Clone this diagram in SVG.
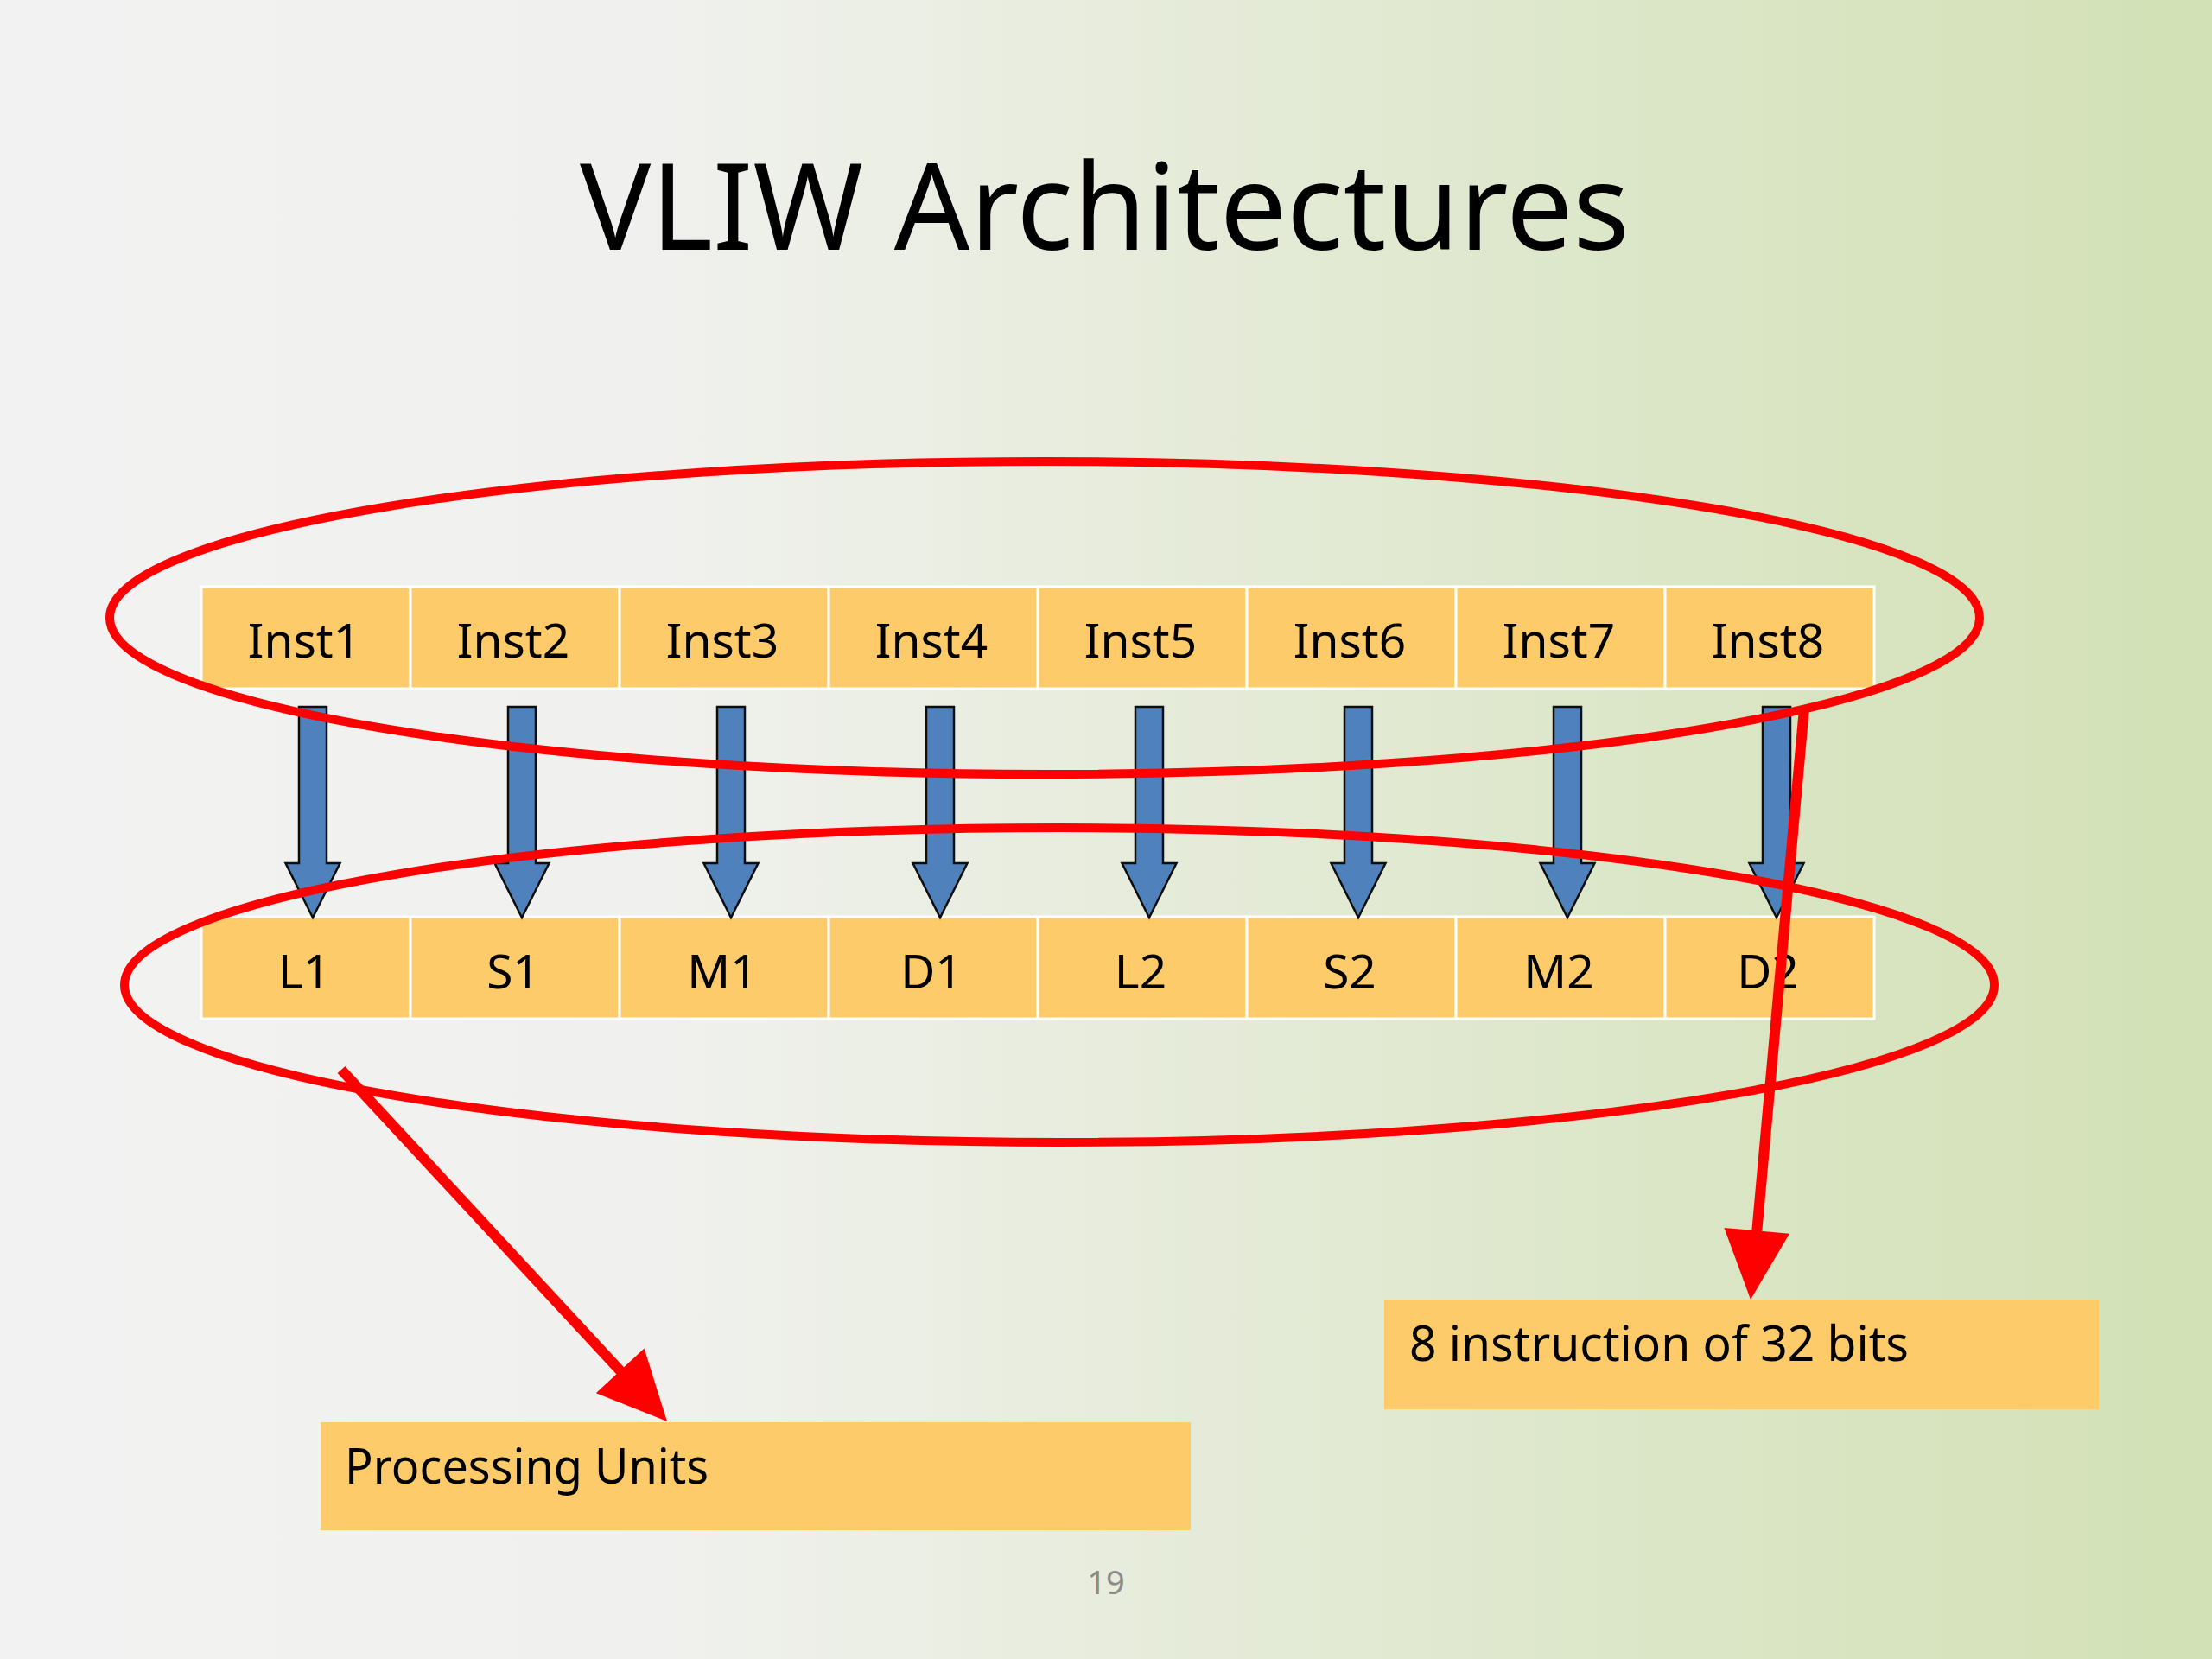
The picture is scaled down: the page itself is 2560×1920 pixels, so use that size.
<svg xmlns="http://www.w3.org/2000/svg" width="2560" height="1920" viewBox="0 0 2560 1920">
<defs>
<linearGradient id="bg" x1="0" y1="0" x2="1" y2="0">
<stop offset="0" stop-color="#f2f2f2"/>
<stop offset="0.3" stop-color="#f0f1ee"/>
<stop offset="0.55" stop-color="#e5ebd8"/>
<stop offset="0.8" stop-color="#d9e5c3"/>
<stop offset="1" stop-color="#d3e1b6"/>
</linearGradient>
<style>
.cell{fill:#fecb6b;stroke:#ffffff;stroke-width:3}
.box{fill:#fecb6b}
.lbl{font-family:"Noto Sans","Open Sans","Liberation Sans",sans-serif;font-size:55px;fill:#000;text-anchor:middle}
.note{font-family:"Noto Sans","Open Sans","Liberation Sans",sans-serif;font-size:56px;fill:#000}
.blue{fill:#4f81bd;stroke:#0d0d0d;stroke-width:2.5;stroke-linejoin:miter}
.ring{fill:none;stroke:#ff0000;stroke-width:10}
.rline{stroke:#ff0000;stroke-width:12;fill:none}
.rhead{fill:#ff0000}
</style>
</defs>
<rect x="0" y="0" width="2560" height="1920" fill="url(#bg)"/>
<text id="title" x="671" y="289" font-family="'Noto Sans','Open Sans','Liberation Sans',sans-serif" font-size="139" textLength="1215" lengthAdjust="spacingAndGlyphs" fill="#000">VLIW Architectures</text>

<g id="inst-row">
<g id="inst1"><rect class="cell" x="233" y="679" width="242" height="118"/><text class="lbl" x="352" y="761">Inst1</text></g>
<g id="inst2"><rect class="cell" x="475" y="679" width="242" height="118"/><text class="lbl" x="594" y="761">Inst2</text></g>
<g id="inst3"><rect class="cell" x="717" y="679" width="242" height="118"/><text class="lbl" x="836" y="761">Inst3</text></g>
<g id="inst4"><rect class="cell" x="959" y="679" width="242" height="118"/><text class="lbl" x="1078" y="761">Inst4</text></g>
<g id="inst5"><rect class="cell" x="1201" y="679" width="242" height="118"/><text class="lbl" x="1320" y="761">Inst5</text></g>
<g id="inst6"><rect class="cell" x="1443" y="679" width="242" height="118"/><text class="lbl" x="1562" y="761">Inst6</text></g>
<g id="inst7"><rect class="cell" x="1685" y="679" width="242" height="118"/><text class="lbl" x="1804" y="761">Inst7</text></g>
<g id="inst8"><rect class="cell" x="1927" y="679" width="242" height="118"/><text class="lbl" x="2046" y="761">Inst8</text></g>
</g>

<g id="unit-row">
<g id="L1"><rect class="cell" x="233" y="1061" width="242" height="118"/><text class="lbl" x="352" y="1144">L1</text></g>
<g id="S1"><rect class="cell" x="475" y="1061" width="242" height="118"/><text class="lbl" x="594" y="1144">S1</text></g>
<g id="M1"><rect class="cell" x="717" y="1061" width="242" height="118"/><text class="lbl" x="836" y="1144">M1</text></g>
<g id="D1"><rect class="cell" x="959" y="1061" width="242" height="118"/><text class="lbl" x="1078" y="1144">D1</text></g>
<g id="L2"><rect class="cell" x="1201" y="1061" width="242" height="118"/><text class="lbl" x="1320" y="1144">L2</text></g>
<g id="S2"><rect class="cell" x="1443" y="1061" width="242" height="118"/><text class="lbl" x="1562" y="1144">S2</text></g>
<g id="M2"><rect class="cell" x="1685" y="1061" width="242" height="118"/><text class="lbl" x="1804" y="1144">M2</text></g>
<g id="D2"><rect class="cell" x="1927" y="1061" width="242" height="118"/><text class="lbl" x="2046" y="1144">D2</text></g>
</g>

<g id="connectors">
<g id="block-arrows">
<polygon class="blue" points="346,818 378,818 378,999 393.5,999 362,1062 330.5,999 346,999"/>
<polygon class="blue" points="588,818 620,818 620,999 635.5,999 604,1062 572.5,999 588,999"/>
<polygon class="blue" points="830,818 862,818 862,999 877.5,999 846,1062 814.5,999 830,999"/>
<polygon class="blue" points="1072,818 1104,818 1104,999 1119.5,999 1088,1062 1056.5,999 1072,999"/>
<polygon class="blue" points="1314,818 1346,818 1346,999 1361.5,999 1330,1062 1298.5,999 1314,999"/>
<polygon class="blue" points="1556,818 1588,818 1588,999 1603.5,999 1572,1062 1540.5,999 1556,999"/>
<polygon class="blue" points="1798,818 1830,818 1830,999 1845.5,999 1814,1062 1782.5,999 1798,999"/>
<polygon class="blue" points="2040,818 2072,818 2072,999 2087.5,999 2056,1062 2024.5,999 2040,999"/>
</g>
</g>

<g id="groupings">
<ellipse id="instr-ring" class="ring" cx="1209" cy="715" rx="1082" ry="181"/>
<ellipse id="unit-ring" class="ring" cx="1226" cy="1140" rx="1082" ry="182"/>
</g>

<g id="callout-arrows">
<line class="rline" x1="395" y1="1238" x2="722" y2="1591"/>
<polygon class="rhead" points="772,1645 689.8,1612.2 745.6,1560.6"/>
<line class="rline" x1="2088" y1="820" x2="2033" y2="1428"/>
<polygon class="rhead" points="2026,1504 1995.4,1420.9 2071,1427.7"/>
</g>

<g id="processing-units">
<rect class="box" x="371" y="1646" width="1007" height="125"/>
<text class="note" x="399" y="1717" textLength="421" lengthAdjust="spacingAndGlyphs">Processing Units</text>
</g>
<g id="instruction-note">
<rect class="box" x="1602" y="1504" width="827" height="127"/>
<text class="note" x="1631" y="1575" textLength="578" lengthAdjust="spacingAndGlyphs">8 instruction of 32 bits</text>
</g>
<text id="page-number" x="1280" y="1845" font-family="'Noto Sans','Open Sans','Liberation Sans',sans-serif" font-size="38" fill="#8c8c8c" text-anchor="middle">19</text>
</svg>
